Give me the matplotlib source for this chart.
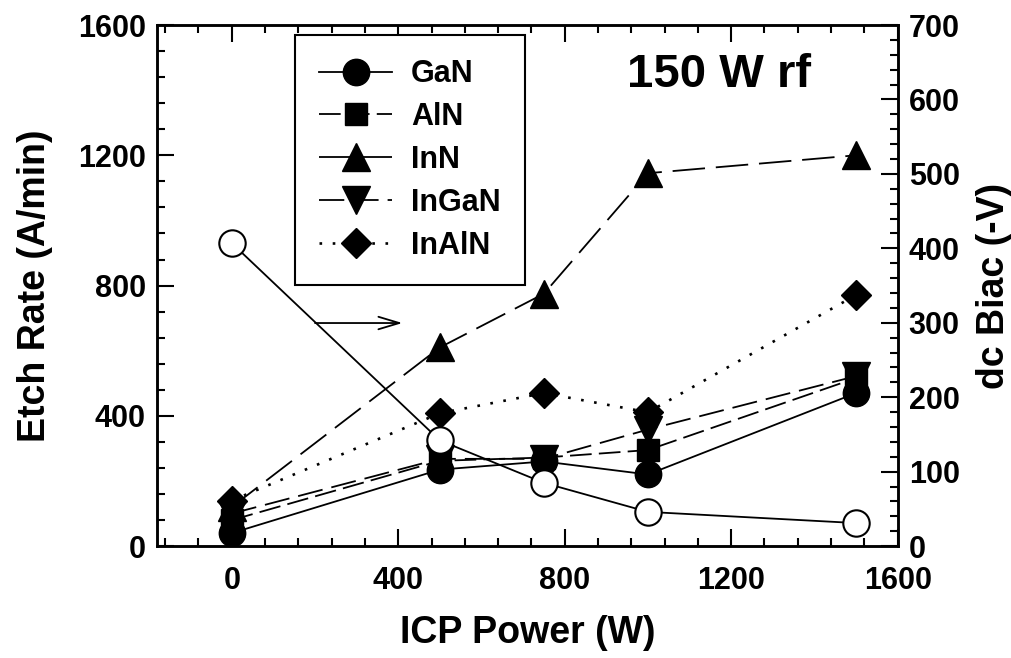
import matplotlib.pyplot as plt
from matplotlib.ticker import MultipleLocator

# ICP power (W)
power = [0, 500, 750, 1000, 1500]

# etch rates (A/min), left axis
gan = [40, 235, 260, 220, 470]
aln = [80, 262, 272, 295, 516]
inn = [120, 610, 775, 1145, 1200]
ingan = [100, 268, 268, 358, 522]
inaln = [140, 408, 470, 411, 771]

# dc bias (-V), right axis
dc_bias = [407, 142, 85, 46, 31]

plt.rcParams['font.family'] = ['Liberation Sans', 'DejaVu Sans']
plt.rcParams['font.weight'] = 'bold'

fig = plt.figure(figsize=(10.12, 6.58), dpi=100)
ax = fig.add_axes([0.155, 0.170, 0.732, 0.792])
ax2 = ax.twinx()

ms = 19
lw = 1.3
ax.plot(power, gan, color='black', lw=lw, marker='o', ms=ms, label='GaN')
ax.plot(power, aln, color='black', lw=lw, marker='s', ms=ms - 3, dashes=(12, 4), label='AlN')
ax.plot(power, inn, color='black', lw=lw, marker='^', ms=ms + 1, dashes=(18, 6), label='InN')
ax.plot(power, ingan, color='black', lw=lw, marker='v', ms=ms + 1, dashes=(14, 5), label='InGaN')
ax.plot(power, inaln, color='black', lw=lw + 0.6, marker='D', ms=ms - 4, linestyle=(0, (1, 4)),
        label='InAlN')

ax2.plot(power, dc_bias, color='black', lw=lw, marker='o', ms=ms,
         markerfacecolor='white', markeredgecolor='black', markeredgewidth=1.5)

ax.set_xlim(-180, 1600)
ax.set_ylim(0, 1600)
ax2.set_ylim(0, 700)

ax.xaxis.set_major_locator(MultipleLocator(400))
ax.xaxis.set_minor_locator(MultipleLocator(80))
ax.yaxis.set_major_locator(MultipleLocator(400))
ax.yaxis.set_minor_locator(MultipleLocator(80))
ax2.yaxis.set_major_locator(MultipleLocator(100))
ax2.yaxis.set_minor_locator(MultipleLocator(20))

ax.tick_params(which='both', direction='in', top=True, right=False, width=1.5, labelsize=22)
ax.tick_params(which='major', length=12)
ax.tick_params(which='minor', length=6)
ax.tick_params(axis='x', pad=14)
ax.tick_params(axis='y', pad=8)
ax2.tick_params(which='both', direction='in', width=1.5, labelsize=22, pad=8)
ax2.tick_params(which='major', length=12)
ax2.tick_params(which='minor', length=6)

for a in (ax, ax2):
    for s in a.spines.values():
        s.set_linewidth(1.8)

ax.set_xlabel('ICP Power (W)', fontsize=27, fontweight='bold', labelpad=14)
ax.set_ylabel('Etch Rate (A/min)', fontsize=27, fontweight='bold', labelpad=18)
ax2.set_ylabel('dc Biac (-V)', fontsize=27, fontweight='bold', labelpad=12)

ax.text(0.634, 0.904, '150 W rf', transform=ax.transAxes, fontsize=34, fontweight='bold',
        ha='left', va='center')

ax.annotate('', xy=(410, 685), xytext=(200, 685),
            arrowprops=dict(arrowstyle='->,head_length=1.5,head_width=0.45', lw=1.3,
                            color='black', shrinkA=0, shrinkB=0))

leg = ax.legend(loc='upper left', bbox_to_anchor=(0.186, 0.981), borderaxespad=0,
                fontsize=22, handlelength=2.4, labelspacing=0.42, handletextpad=0.6,
                fancybox=False, framealpha=1, edgecolor='black', borderpad=0.8)
leg.get_frame().set_linewidth(1.5)

fig.savefig('out.png', dpi=100)
